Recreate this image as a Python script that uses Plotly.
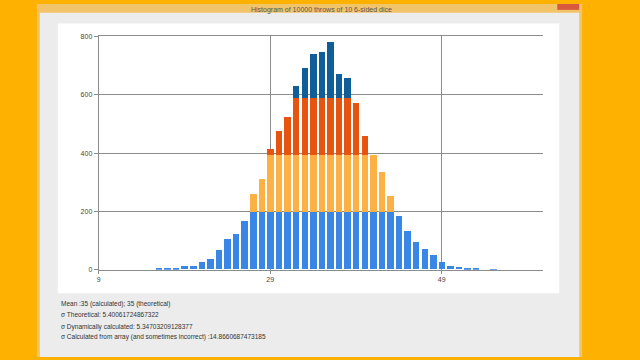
import numpy as np
import plotly.graph_objects as go

# Sum of 10 six-sided dice -> observed counts (10000 throws)
sums = list(range(16, 56))
counts = [2, 3, 3, 10, 13, 24, 34, 67, 103, 122, 167, 259, 311, 412, 474, 523,
          627, 689, 737, 745, 780, 670, 657, 571, 457, 392, 334, 252, 182, 130,
          94, 69, 48, 25, 13, 7, 6, 2, 0, 1]
layer_size = 196
layer_colors = ["#3a86e6", "#fdb044", "#e6540f", "#0f5e99"]
y_ticks = [0, 200, 400, 600, 800]
x_ticks = [9, 29, 49]
info_lines = [
    "Mean :35 (calculated); 35 (theoretical)",
    "σ Theoretical: 5.40061724867322",
    "σ Dynamically calculated: 5.34703209128377",
    "σ Calculated from array (and sometimes incorrect) :14.8660687473185",
]
window_title = "Histogram of 10000 throws of 10 6-sided dice"

W, H = 640, 360
def px(x):
    return x / W
def py(y):
    return 1 - y / H

GRID = "#8c8c8c"
tot = np.array(counts, dtype=float)
fig = go.Figure()
for i, col in enumerate(layer_colors):
    seg = np.clip(tot - layer_size * i, 0, layer_size)
    fig.add_trace(go.Bar(x=sums, y=seg, marker=dict(color=col, line=dict(width=0)),
                         width=0.76, showlegend=False, hoverinfo="skip"))

shapes = [
    # window frame
    dict(type="rect", xref="paper", yref="paper", x0=px(35), x1=px(582), y0=0, y1=1,
         fillcolor="#f2c46a", line=dict(width=0), layer="below"),
    dict(type="rect", xref="paper", yref="paper", x0=px(38), x1=px(579), y0=0, y1=py(9),
         fillcolor="#ececec", line=dict(width=0), layer="below"),
    # close button
    dict(type="rect", xref="paper", yref="paper", x0=px(557), x1=px(579), y0=py(6), y1=1,
         fillcolor="#d9593f", line=dict(width=0), layer="below"),
    # white chart area
    dict(type="rect", xref="paper", yref="paper", x0=px(56), x1=px(559), y0=py(295), y1=py(20),
         fillcolor="#ffffff", line=dict(width=0), layer="below"),
]

annotations = [dict(xref="paper", yref="paper", x=0.5, y=py(0.5), text=window_title,
                    showarrow=False, xanchor="center", yanchor="top",
                    font=dict(family="Liberation Sans, Arial", size=7, color="#555555"))]
for line, ypx in zip(info_lines, [306, 317, 329, 340]):
    annotations.append(dict(xref="paper", yref="paper", x=px(57), y=py(ypx), text=line,
                            showarrow=False, xanchor="left", yanchor="middle",
                            font=dict(family="Liberation Sans, Arial", size=6.5, color="#333333")))

fig.update_layout(
    width=W, height=H, margin=dict(l=0, r=0, t=0, b=0),
    paper_bgcolor="#ffb100", plot_bgcolor="rgba(0,0,0,0)",
    barmode="stack", bargap=0,
    shapes=shapes, annotations=annotations,
    font=dict(family="Liberation Sans, Arial", size=7, color="#444444"),
    xaxis=dict(domain=[px(97), px(543)], range=[9, 60.86], tickvals=x_ticks,
               showgrid=True, gridcolor=GRID, gridwidth=1, zeroline=False,
               showline=True, mirror=True, linecolor=GRID, linewidth=1,
               ticks="outside", ticklen=3, tickcolor=GRID,
               tickfont=dict(size=7, color="#444444"), fixedrange=True),
    yaxis=dict(domain=[py(271), py(33)], range=[0, 800], tickvals=y_ticks,
               showgrid=True, gridcolor=GRID, gridwidth=1, zeroline=False,
               showline=True, linecolor=GRID, linewidth=1,
               ticks="outside", ticklen=4, tickcolor=GRID,
               tickfont=dict(size=7, color="#444444"), fixedrange=True),
)

fig.write_html("out.html")
